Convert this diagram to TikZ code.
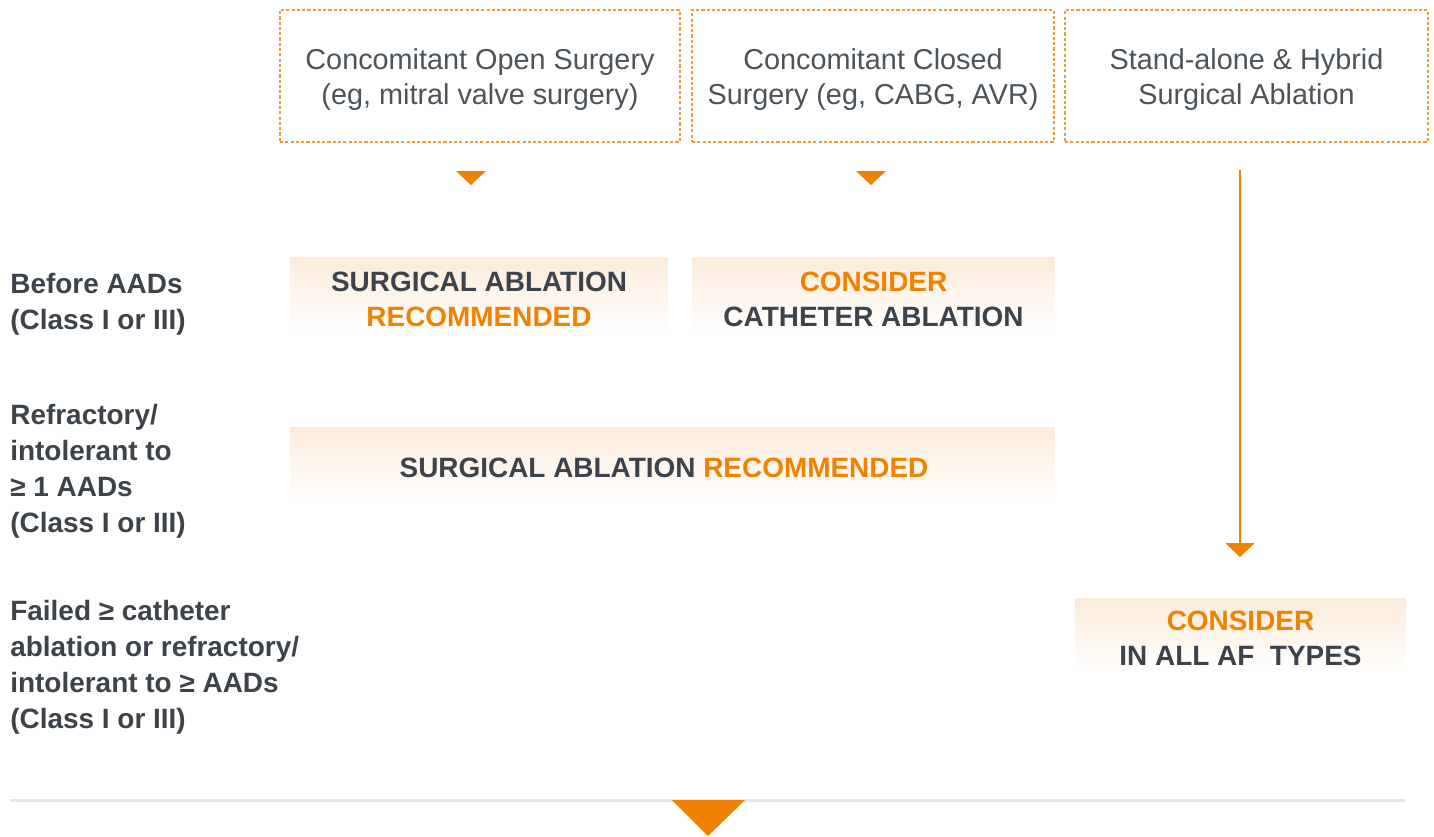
\documentclass[tikz,border=0pt]{standalone}
\usepackage{fontspec}
\setmainfont{Liberation Sans}
\usetikzlibrary{arrows.meta}
\definecolor{org}{HTML}{EF8200}
\definecolor{orgdash}{HTML}{F29A3A}
\definecolor{dark}{HTML}{3C434B}
\definecolor{graytxt}{HTML}{4B535B}
\definecolor{rule}{HTML}{E6E6E6}
\definecolor{peach}{HTML}{FCEBDA}
\tikzset{
  topbox/.style={draw=orgdash, line width=0.7pt, dash pattern=on 1.8pt off 1.2pt,
    minimum height=2.64cm, inner sep=0pt},
  toptext/.style={align=center, text=graytxt, inner sep=0pt,
    font=\fontsize{16.4pt}{19.9pt}\selectfont},
  gradbox/.style={top color=peach, bottom color=white, draw=none, inner sep=0pt},
  boxtext/.style={align=center, text=dark, inner sep=0pt,
    font=\bfseries\fontsize{15.9pt}{19.9pt}\selectfont},
  rowlabel/.style={anchor=west, align=left, text=dark, inner sep=0pt,
    font=\bfseries\fontsize{15.9pt}{20.5pt}\selectfont},
  tri/.style={fill=org, draw=none},
  conn/.style={draw=org, line width=1.2pt, -{Triangle[length=0.28cm,width=0.58cm]}}
}
\begin{document}
\begin{tikzpicture}[x=0.02cm,y=-0.02cm]
\useasboundingbox (0,0) rectangle (1434,836);
% top dashed boxes
\node[topbox, minimum width=8cm] (top1) at (480,76) {};
\node[topbox, minimum width=7.24cm] (top2) at (873,76) {};
\node[topbox, minimum width=7.26cm] (top3) at (1246.5,76) {};
\node[toptext] (top1t) at (480,80) {Concomitant Open Surgery\\(eg, mitral valve surgery)};
\node[toptext] (top2t) at (873,80) {Concomitant Closed\\Surgery (eg, CABG, AVR)};
\node[toptext] (top3t) at (1246.5,80) {Stand-alone \& Hybrid\\Surgical Ablation};
% small triangles
\path[tri] (456,171) -- (486,171) -- (471,185) -- cycle;
\path[tri] (856,171) -- (886,171) -- (871,185) -- cycle;
% recommendation boxes
\node[gradbox, minimum width=7.56cm, minimum height=1.52cm] (recA) at (479,295) {};
\node[gradbox, minimum width=7.26cm, minimum height=1.52cm] (recB) at (873.5,295) {};
\node[gradbox, minimum width=15.3cm, minimum height=1.46cm] (recC) at (672.5,463.5) {};
\node[gradbox, minimum width=6.62cm, minimum height=1.48cm] (recD) at (1240.5,635) {};
\node[boxtext] (recAt) at (479,299) {SURGICAL ABLATION\\\textcolor{org}{RECOMMENDED}};
\node[boxtext] (recBt) at (873.5,299) {\textcolor{org}{CONSIDER}\\CATHETER ABLATION};
\node[boxtext] (recCt) at (664,468) {SURGICAL ABLATION \textcolor{org}{RECOMMENDED}};
\node[boxtext] (recDt) at (1240.5,638) {\textcolor{org}{CONSIDER}\\IN ALL AF\ \ TYPES};
% vertical arrow
\coordinate (vstart) at (1240,170);
\coordinate (vend) at (1240,557);
\draw[conn] (vstart) -- (vend);
% row labels
\node[rowlabel] (row1) at (10,304) {Before AADs\\(Class I or III)};
\node[rowlabel] (row2) at (10,471) {Refractory/\\intolerant to\\≥ 1 AADs\\(Class I or III)};
\node[rowlabel] (row3) at (10,667) {Failed ≥ catheter\\ablation or refractory/\\intolerant to ≥ AADs\\(Class I or III)};
% bottom rule and triangle
\coordinate (ruleL) at (10,800);
\coordinate (ruleR) at (1405,800);
\draw[rule, line width=1.7pt] (ruleL) -- (ruleR);
\path[tri] (672,800) -- (745,800) -- (708,836) -- cycle;
\end{tikzpicture}
\end{document}
